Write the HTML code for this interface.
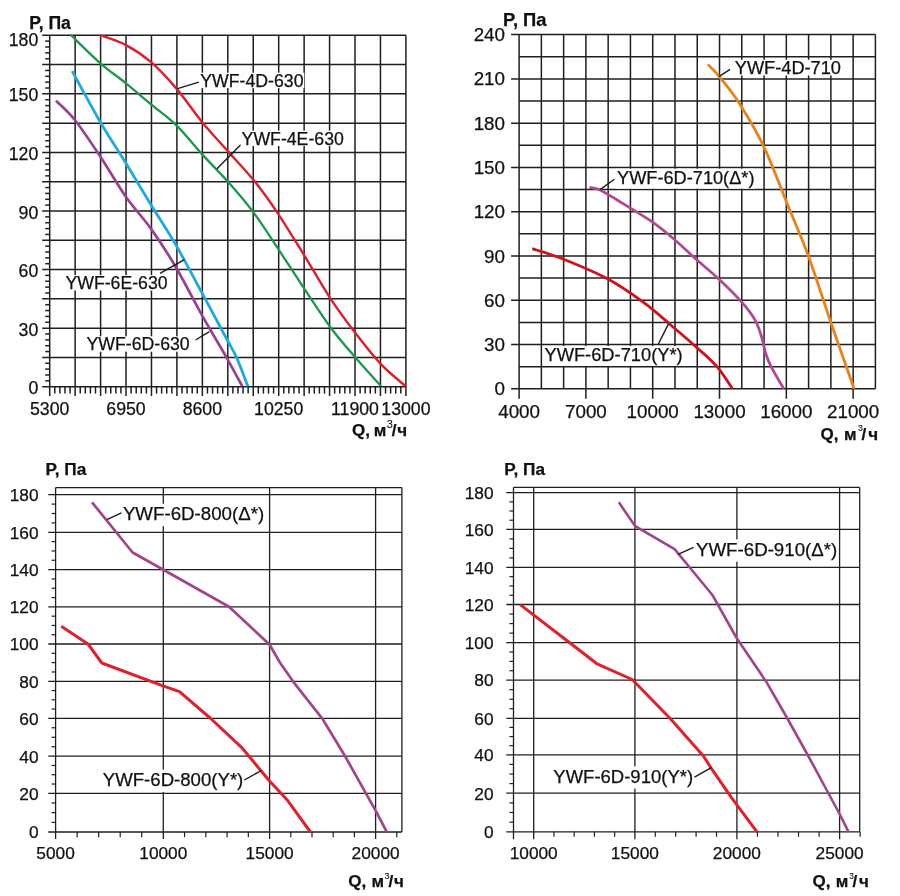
<!DOCTYPE html>
<html><head><meta charset="utf-8"><style>
html,body{margin:0;padding:0;background:#fff;}
svg{display:block;will-change:transform;}
text{font-family:"Liberation Sans", sans-serif;fill:#111;stroke:#111;stroke-width:0.25px;}
</style></head><body>
<svg width="900" height="896" viewBox="0 0 900 896">
<rect width="900" height="896" fill="#fff"/>
<line x1="49.70" y1="35.30" x2="49.70" y2="396.10" stroke="#1f1f1f" stroke-width="1.5"/>
<line x1="75.14" y1="35.30" x2="75.14" y2="396.10" stroke="#1f1f1f" stroke-width="1.5"/>
<line x1="100.59" y1="35.30" x2="100.59" y2="396.10" stroke="#1f1f1f" stroke-width="1.5"/>
<line x1="126.03" y1="35.30" x2="126.03" y2="396.10" stroke="#1f1f1f" stroke-width="1.5"/>
<line x1="151.47" y1="35.30" x2="151.47" y2="396.10" stroke="#1f1f1f" stroke-width="1.5"/>
<line x1="176.91" y1="35.30" x2="176.91" y2="396.10" stroke="#1f1f1f" stroke-width="1.5"/>
<line x1="202.36" y1="35.30" x2="202.36" y2="396.10" stroke="#1f1f1f" stroke-width="1.5"/>
<line x1="227.80" y1="35.30" x2="227.80" y2="396.10" stroke="#1f1f1f" stroke-width="1.5"/>
<line x1="253.24" y1="35.30" x2="253.24" y2="396.10" stroke="#1f1f1f" stroke-width="1.5"/>
<line x1="278.69" y1="35.30" x2="278.69" y2="396.10" stroke="#1f1f1f" stroke-width="1.5"/>
<line x1="304.13" y1="35.30" x2="304.13" y2="396.10" stroke="#1f1f1f" stroke-width="1.5"/>
<line x1="329.57" y1="35.30" x2="329.57" y2="396.10" stroke="#1f1f1f" stroke-width="1.5"/>
<line x1="355.01" y1="35.30" x2="355.01" y2="396.10" stroke="#1f1f1f" stroke-width="1.5"/>
<line x1="380.46" y1="35.30" x2="380.46" y2="396.10" stroke="#1f1f1f" stroke-width="1.5"/>
<line x1="405.90" y1="35.30" x2="405.90" y2="396.10" stroke="#1f1f1f" stroke-width="1.5"/>
<line x1="42.20" y1="35.30" x2="405.90" y2="35.30" stroke="#1f1f1f" stroke-width="1.5"/>
<line x1="42.20" y1="64.58" x2="405.90" y2="64.58" stroke="#1f1f1f" stroke-width="1.5"/>
<line x1="42.20" y1="93.87" x2="405.90" y2="93.87" stroke="#1f1f1f" stroke-width="1.5"/>
<line x1="42.20" y1="123.15" x2="405.90" y2="123.15" stroke="#1f1f1f" stroke-width="1.5"/>
<line x1="42.20" y1="152.43" x2="405.90" y2="152.43" stroke="#1f1f1f" stroke-width="1.5"/>
<line x1="42.20" y1="181.72" x2="405.90" y2="181.72" stroke="#1f1f1f" stroke-width="1.5"/>
<line x1="42.20" y1="211.00" x2="405.90" y2="211.00" stroke="#1f1f1f" stroke-width="1.5"/>
<line x1="42.20" y1="240.28" x2="405.90" y2="240.28" stroke="#1f1f1f" stroke-width="1.5"/>
<line x1="42.20" y1="269.57" x2="405.90" y2="269.57" stroke="#1f1f1f" stroke-width="1.5"/>
<line x1="42.20" y1="298.85" x2="405.90" y2="298.85" stroke="#1f1f1f" stroke-width="1.5"/>
<line x1="42.20" y1="328.13" x2="405.90" y2="328.13" stroke="#1f1f1f" stroke-width="1.5"/>
<line x1="42.20" y1="357.42" x2="405.90" y2="357.42" stroke="#1f1f1f" stroke-width="1.5"/>
<line x1="42.20" y1="386.70" x2="405.90" y2="386.70" stroke="#1f1f1f" stroke-width="1.5"/>
<line x1="54.79" y1="386.70" x2="54.79" y2="393.60" stroke="#1f1f1f" stroke-width="1.5"/>
<line x1="59.88" y1="386.70" x2="59.88" y2="393.60" stroke="#1f1f1f" stroke-width="1.5"/>
<line x1="64.97" y1="386.70" x2="64.97" y2="393.60" stroke="#1f1f1f" stroke-width="1.5"/>
<line x1="70.05" y1="386.70" x2="70.05" y2="393.60" stroke="#1f1f1f" stroke-width="1.5"/>
<line x1="80.23" y1="386.70" x2="80.23" y2="393.60" stroke="#1f1f1f" stroke-width="1.5"/>
<line x1="85.32" y1="386.70" x2="85.32" y2="393.60" stroke="#1f1f1f" stroke-width="1.5"/>
<line x1="90.41" y1="386.70" x2="90.41" y2="393.60" stroke="#1f1f1f" stroke-width="1.5"/>
<line x1="95.50" y1="386.70" x2="95.50" y2="393.60" stroke="#1f1f1f" stroke-width="1.5"/>
<line x1="105.67" y1="386.70" x2="105.67" y2="393.60" stroke="#1f1f1f" stroke-width="1.5"/>
<line x1="110.76" y1="386.70" x2="110.76" y2="393.60" stroke="#1f1f1f" stroke-width="1.5"/>
<line x1="115.85" y1="386.70" x2="115.85" y2="393.60" stroke="#1f1f1f" stroke-width="1.5"/>
<line x1="120.94" y1="386.70" x2="120.94" y2="393.60" stroke="#1f1f1f" stroke-width="1.5"/>
<line x1="131.12" y1="386.70" x2="131.12" y2="393.60" stroke="#1f1f1f" stroke-width="1.5"/>
<line x1="136.21" y1="386.70" x2="136.21" y2="393.60" stroke="#1f1f1f" stroke-width="1.5"/>
<line x1="141.29" y1="386.70" x2="141.29" y2="393.60" stroke="#1f1f1f" stroke-width="1.5"/>
<line x1="146.38" y1="386.70" x2="146.38" y2="393.60" stroke="#1f1f1f" stroke-width="1.5"/>
<line x1="156.56" y1="386.70" x2="156.56" y2="393.60" stroke="#1f1f1f" stroke-width="1.5"/>
<line x1="161.65" y1="386.70" x2="161.65" y2="393.60" stroke="#1f1f1f" stroke-width="1.5"/>
<line x1="166.74" y1="386.70" x2="166.74" y2="393.60" stroke="#1f1f1f" stroke-width="1.5"/>
<line x1="171.83" y1="386.70" x2="171.83" y2="393.60" stroke="#1f1f1f" stroke-width="1.5"/>
<line x1="182.00" y1="386.70" x2="182.00" y2="393.60" stroke="#1f1f1f" stroke-width="1.5"/>
<line x1="187.09" y1="386.70" x2="187.09" y2="393.60" stroke="#1f1f1f" stroke-width="1.5"/>
<line x1="192.18" y1="386.70" x2="192.18" y2="393.60" stroke="#1f1f1f" stroke-width="1.5"/>
<line x1="197.27" y1="386.70" x2="197.27" y2="393.60" stroke="#1f1f1f" stroke-width="1.5"/>
<line x1="207.45" y1="386.70" x2="207.45" y2="393.60" stroke="#1f1f1f" stroke-width="1.5"/>
<line x1="212.53" y1="386.70" x2="212.53" y2="393.60" stroke="#1f1f1f" stroke-width="1.5"/>
<line x1="217.62" y1="386.70" x2="217.62" y2="393.60" stroke="#1f1f1f" stroke-width="1.5"/>
<line x1="222.71" y1="386.70" x2="222.71" y2="393.60" stroke="#1f1f1f" stroke-width="1.5"/>
<line x1="232.89" y1="386.70" x2="232.89" y2="393.60" stroke="#1f1f1f" stroke-width="1.5"/>
<line x1="237.98" y1="386.70" x2="237.98" y2="393.60" stroke="#1f1f1f" stroke-width="1.5"/>
<line x1="243.07" y1="386.70" x2="243.07" y2="393.60" stroke="#1f1f1f" stroke-width="1.5"/>
<line x1="248.15" y1="386.70" x2="248.15" y2="393.60" stroke="#1f1f1f" stroke-width="1.5"/>
<line x1="258.33" y1="386.70" x2="258.33" y2="393.60" stroke="#1f1f1f" stroke-width="1.5"/>
<line x1="263.42" y1="386.70" x2="263.42" y2="393.60" stroke="#1f1f1f" stroke-width="1.5"/>
<line x1="268.51" y1="386.70" x2="268.51" y2="393.60" stroke="#1f1f1f" stroke-width="1.5"/>
<line x1="273.60" y1="386.70" x2="273.60" y2="393.60" stroke="#1f1f1f" stroke-width="1.5"/>
<line x1="283.77" y1="386.70" x2="283.77" y2="393.60" stroke="#1f1f1f" stroke-width="1.5"/>
<line x1="288.86" y1="386.70" x2="288.86" y2="393.60" stroke="#1f1f1f" stroke-width="1.5"/>
<line x1="293.95" y1="386.70" x2="293.95" y2="393.60" stroke="#1f1f1f" stroke-width="1.5"/>
<line x1="299.04" y1="386.70" x2="299.04" y2="393.60" stroke="#1f1f1f" stroke-width="1.5"/>
<line x1="309.22" y1="386.70" x2="309.22" y2="393.60" stroke="#1f1f1f" stroke-width="1.5"/>
<line x1="314.31" y1="386.70" x2="314.31" y2="393.60" stroke="#1f1f1f" stroke-width="1.5"/>
<line x1="319.39" y1="386.70" x2="319.39" y2="393.60" stroke="#1f1f1f" stroke-width="1.5"/>
<line x1="324.48" y1="386.70" x2="324.48" y2="393.60" stroke="#1f1f1f" stroke-width="1.5"/>
<line x1="334.66" y1="386.70" x2="334.66" y2="393.60" stroke="#1f1f1f" stroke-width="1.5"/>
<line x1="339.75" y1="386.70" x2="339.75" y2="393.60" stroke="#1f1f1f" stroke-width="1.5"/>
<line x1="344.84" y1="386.70" x2="344.84" y2="393.60" stroke="#1f1f1f" stroke-width="1.5"/>
<line x1="349.93" y1="386.70" x2="349.93" y2="393.60" stroke="#1f1f1f" stroke-width="1.5"/>
<line x1="360.10" y1="386.70" x2="360.10" y2="393.60" stroke="#1f1f1f" stroke-width="1.5"/>
<line x1="365.19" y1="386.70" x2="365.19" y2="393.60" stroke="#1f1f1f" stroke-width="1.5"/>
<line x1="370.28" y1="386.70" x2="370.28" y2="393.60" stroke="#1f1f1f" stroke-width="1.5"/>
<line x1="375.37" y1="386.70" x2="375.37" y2="393.60" stroke="#1f1f1f" stroke-width="1.5"/>
<line x1="385.55" y1="386.70" x2="385.55" y2="393.60" stroke="#1f1f1f" stroke-width="1.5"/>
<line x1="390.63" y1="386.70" x2="390.63" y2="393.60" stroke="#1f1f1f" stroke-width="1.5"/>
<line x1="395.72" y1="386.70" x2="395.72" y2="393.60" stroke="#1f1f1f" stroke-width="1.5"/>
<line x1="400.81" y1="386.70" x2="400.81" y2="393.60" stroke="#1f1f1f" stroke-width="1.5"/>
<line x1="45.20" y1="41.16" x2="49.70" y2="41.16" stroke="#1f1f1f" stroke-width="1.5"/>
<line x1="45.20" y1="47.01" x2="49.70" y2="47.01" stroke="#1f1f1f" stroke-width="1.5"/>
<line x1="45.20" y1="52.87" x2="49.70" y2="52.87" stroke="#1f1f1f" stroke-width="1.5"/>
<line x1="45.20" y1="58.73" x2="49.70" y2="58.73" stroke="#1f1f1f" stroke-width="1.5"/>
<line x1="45.20" y1="70.44" x2="49.70" y2="70.44" stroke="#1f1f1f" stroke-width="1.5"/>
<line x1="45.20" y1="76.30" x2="49.70" y2="76.30" stroke="#1f1f1f" stroke-width="1.5"/>
<line x1="45.20" y1="82.15" x2="49.70" y2="82.15" stroke="#1f1f1f" stroke-width="1.5"/>
<line x1="45.20" y1="88.01" x2="49.70" y2="88.01" stroke="#1f1f1f" stroke-width="1.5"/>
<line x1="45.20" y1="99.72" x2="49.70" y2="99.72" stroke="#1f1f1f" stroke-width="1.5"/>
<line x1="45.20" y1="105.58" x2="49.70" y2="105.58" stroke="#1f1f1f" stroke-width="1.5"/>
<line x1="45.20" y1="111.44" x2="49.70" y2="111.44" stroke="#1f1f1f" stroke-width="1.5"/>
<line x1="45.20" y1="117.29" x2="49.70" y2="117.29" stroke="#1f1f1f" stroke-width="1.5"/>
<line x1="45.20" y1="129.01" x2="49.70" y2="129.01" stroke="#1f1f1f" stroke-width="1.5"/>
<line x1="45.20" y1="134.86" x2="49.70" y2="134.86" stroke="#1f1f1f" stroke-width="1.5"/>
<line x1="45.20" y1="140.72" x2="49.70" y2="140.72" stroke="#1f1f1f" stroke-width="1.5"/>
<line x1="45.20" y1="146.58" x2="49.70" y2="146.58" stroke="#1f1f1f" stroke-width="1.5"/>
<line x1="45.20" y1="158.29" x2="49.70" y2="158.29" stroke="#1f1f1f" stroke-width="1.5"/>
<line x1="45.20" y1="164.15" x2="49.70" y2="164.15" stroke="#1f1f1f" stroke-width="1.5"/>
<line x1="45.20" y1="170.00" x2="49.70" y2="170.00" stroke="#1f1f1f" stroke-width="1.5"/>
<line x1="45.20" y1="175.86" x2="49.70" y2="175.86" stroke="#1f1f1f" stroke-width="1.5"/>
<line x1="45.20" y1="187.57" x2="49.70" y2="187.57" stroke="#1f1f1f" stroke-width="1.5"/>
<line x1="45.20" y1="193.43" x2="49.70" y2="193.43" stroke="#1f1f1f" stroke-width="1.5"/>
<line x1="45.20" y1="199.29" x2="49.70" y2="199.29" stroke="#1f1f1f" stroke-width="1.5"/>
<line x1="45.20" y1="205.14" x2="49.70" y2="205.14" stroke="#1f1f1f" stroke-width="1.5"/>
<line x1="45.20" y1="216.86" x2="49.70" y2="216.86" stroke="#1f1f1f" stroke-width="1.5"/>
<line x1="45.20" y1="222.71" x2="49.70" y2="222.71" stroke="#1f1f1f" stroke-width="1.5"/>
<line x1="45.20" y1="228.57" x2="49.70" y2="228.57" stroke="#1f1f1f" stroke-width="1.5"/>
<line x1="45.20" y1="234.43" x2="49.70" y2="234.43" stroke="#1f1f1f" stroke-width="1.5"/>
<line x1="45.20" y1="246.14" x2="49.70" y2="246.14" stroke="#1f1f1f" stroke-width="1.5"/>
<line x1="45.20" y1="252.00" x2="49.70" y2="252.00" stroke="#1f1f1f" stroke-width="1.5"/>
<line x1="45.20" y1="257.85" x2="49.70" y2="257.85" stroke="#1f1f1f" stroke-width="1.5"/>
<line x1="45.20" y1="263.71" x2="49.70" y2="263.71" stroke="#1f1f1f" stroke-width="1.5"/>
<line x1="45.20" y1="275.42" x2="49.70" y2="275.42" stroke="#1f1f1f" stroke-width="1.5"/>
<line x1="45.20" y1="281.28" x2="49.70" y2="281.28" stroke="#1f1f1f" stroke-width="1.5"/>
<line x1="45.20" y1="287.14" x2="49.70" y2="287.14" stroke="#1f1f1f" stroke-width="1.5"/>
<line x1="45.20" y1="292.99" x2="49.70" y2="292.99" stroke="#1f1f1f" stroke-width="1.5"/>
<line x1="45.20" y1="304.71" x2="49.70" y2="304.71" stroke="#1f1f1f" stroke-width="1.5"/>
<line x1="45.20" y1="310.56" x2="49.70" y2="310.56" stroke="#1f1f1f" stroke-width="1.5"/>
<line x1="45.20" y1="316.42" x2="49.70" y2="316.42" stroke="#1f1f1f" stroke-width="1.5"/>
<line x1="45.20" y1="322.28" x2="49.70" y2="322.28" stroke="#1f1f1f" stroke-width="1.5"/>
<line x1="45.20" y1="333.99" x2="49.70" y2="333.99" stroke="#1f1f1f" stroke-width="1.5"/>
<line x1="45.20" y1="339.85" x2="49.70" y2="339.85" stroke="#1f1f1f" stroke-width="1.5"/>
<line x1="45.20" y1="345.70" x2="49.70" y2="345.70" stroke="#1f1f1f" stroke-width="1.5"/>
<line x1="45.20" y1="351.56" x2="49.70" y2="351.56" stroke="#1f1f1f" stroke-width="1.5"/>
<line x1="45.20" y1="363.27" x2="49.70" y2="363.27" stroke="#1f1f1f" stroke-width="1.5"/>
<line x1="45.20" y1="369.13" x2="49.70" y2="369.13" stroke="#1f1f1f" stroke-width="1.5"/>
<line x1="45.20" y1="374.99" x2="49.70" y2="374.99" stroke="#1f1f1f" stroke-width="1.5"/>
<line x1="45.20" y1="380.84" x2="49.70" y2="380.84" stroke="#1f1f1f" stroke-width="1.5"/>
<text x="38.30" y="45.50" font-size="17.7" text-anchor="end" font-weight="400" >180</text>
<text x="38.30" y="101.47" font-size="17.7" text-anchor="end" font-weight="400" >150</text>
<text x="38.30" y="160.03" font-size="17.7" text-anchor="end" font-weight="400" >120</text>
<text x="38.30" y="218.60" font-size="17.7" text-anchor="end" font-weight="400" >90</text>
<text x="38.30" y="277.17" font-size="17.7" text-anchor="end" font-weight="400" >60</text>
<text x="38.30" y="335.73" font-size="17.7" text-anchor="end" font-weight="400" >30</text>
<text x="38.30" y="394.30" font-size="17.7" text-anchor="end" font-weight="400" >0</text>
<text x="49.70" y="414.50" font-size="17.7" text-anchor="middle" font-weight="400" >5300</text>
<text x="126.03" y="414.50" font-size="17.7" text-anchor="middle" font-weight="400" >6950</text>
<text x="202.36" y="414.50" font-size="17.7" text-anchor="middle" font-weight="400" >8600</text>
<text x="278.69" y="414.50" font-size="17.7" text-anchor="middle" font-weight="400" >10250</text>
<text x="355.01" y="414.50" font-size="17.7" text-anchor="middle" font-weight="400" >11900</text>
<text x="405.90" y="414.50" font-size="17.7" text-anchor="middle" font-weight="400" >13000</text>
<text x="29.20" y="29.00" font-size="17.6" text-anchor="start" font-weight="700" >P, Па</text>
<text x="352.02" y="436.30" font-size="17.0" font-weight="700">Q,</text>
<text x="373.81" y="436.30" font-size="17.0" font-weight="700">м</text>
<text x="386.64" y="427.50" font-size="10.94" font-weight="400" style="stroke-width:0.1px">3</text>
<text x="391.83" y="436.30" font-size="17.0" font-weight="700">/</text>
<text x="397.32" y="436.30" font-size="17.0" font-weight="700">ч</text>
<path d="M100.40,35.20 C104.67,36.85 117.55,40.60 126.00,45.10 C134.45,49.60 142.65,54.90 151.10,62.20 C159.55,69.50 168.18,78.90 176.70,88.90 C185.22,98.90 193.68,111.83 202.20,122.20 C210.72,132.57 219.10,141.28 227.80,151.10 C236.50,160.92 246.07,170.73 254.40,181.10 C262.73,191.47 269.47,200.88 277.80,213.30 C286.13,225.72 295.70,241.52 304.40,255.60 C313.10,269.68 321.47,284.85 330.00,297.80 C338.53,310.75 347.08,322.20 355.60,333.30 C364.12,344.40 372.77,355.58 381.10,364.40 C389.43,373.22 401.52,382.57 405.60,386.20" fill="none" stroke="#dc1f2a" stroke-width="2.4" stroke-linejoin="round" stroke-linecap="butt"/>
<path d="M71.10,35.20 C75.98,39.88 91.25,55.28 100.40,63.30 C109.55,71.32 117.55,76.45 126.00,83.30 C134.45,90.15 142.65,97.35 151.10,104.40 C159.55,111.45 168.18,117.27 176.70,125.60 C185.22,133.93 193.68,145.07 202.20,154.40 C210.72,163.73 219.28,171.97 227.80,181.60 C236.32,191.23 244.78,200.80 253.30,212.20 C261.82,223.60 270.38,237.22 278.90,250.00 C287.42,262.78 295.88,276.12 304.40,288.90 C312.92,301.68 321.47,315.22 330.00,326.70 C338.53,338.18 347.08,347.88 355.60,357.80 C364.12,367.72 376.85,381.47 381.10,386.20" fill="none" stroke="#1b984c" stroke-width="2.3" stroke-linejoin="round" stroke-linecap="butt"/>
<path d="M72.20,71.10 C76.90,79.62 91.43,106.83 100.40,122.20 C109.37,137.57 117.55,149.50 126.00,163.30 C134.45,177.10 142.83,191.48 151.10,205.00 C159.37,218.52 167.08,229.68 175.60,244.40 C184.12,259.12 193.68,277.53 202.20,293.30 C210.72,309.07 220.95,328.25 226.70,339.00 C232.45,349.75 233.18,349.93 236.70,357.80 C240.22,365.67 245.95,381.47 247.80,386.20" fill="none" stroke="#1eaae0" stroke-width="2.8" stroke-linejoin="round" stroke-linecap="butt"/>
<path d="M56.00,100.70 C59.15,103.92 67.50,110.67 74.90,120.00 C82.30,129.33 91.88,143.87 100.40,156.70 C108.92,169.53 117.55,184.97 126.00,197.00 C134.45,209.03 142.83,217.28 151.10,228.90 C159.37,240.52 167.08,252.25 175.60,266.70 C184.12,281.15 193.68,300.42 202.20,315.60 C210.72,330.78 220.03,346.03 226.70,357.80 C233.37,369.57 239.62,381.47 242.20,386.20" fill="none" stroke="#9a4090" stroke-width="2.7" stroke-linejoin="round" stroke-linecap="butt"/>
<line x1="176.70" y1="88.90" x2="198.90" y2="82.20" stroke="#1a1a1a" stroke-width="1.4"/>
<rect x="199.33" y="72.71" width="104.95" height="15.39" fill="#fff"/>
<text x="200.30" y="86.60" font-size="17.7" text-anchor="start" font-weight="400" >YWF-4D-630</text>
<line x1="216.70" y1="168.90" x2="241.00" y2="144.40" stroke="#1a1a1a" stroke-width="1.4"/>
<rect x="240.63" y="130.61" width="104.07" height="15.39" fill="#fff"/>
<text x="241.60" y="144.50" font-size="17.7" text-anchor="start" font-weight="400" >YWF-4E-630</text>
<line x1="160.00" y1="273.30" x2="184.40" y2="259.60" stroke="#1a1a1a" stroke-width="1.4"/>
<rect x="64.43" y="275.11" width="104.07" height="15.39" fill="#fff"/>
<text x="65.40" y="289.00" font-size="17.7" text-anchor="start" font-weight="400" >YWF-6E-630</text>
<line x1="195.60" y1="340.00" x2="209.30" y2="331.60" stroke="#1a1a1a" stroke-width="1.4"/>
<rect x="85.53" y="336.31" width="104.95" height="15.39" fill="#fff"/>
<text x="86.50" y="350.20" font-size="17.7" text-anchor="start" font-weight="400" >YWF-6D-630</text>
<line x1="519.10" y1="34.60" x2="519.10" y2="398.80" stroke="#1f1f1f" stroke-width="1.5"/>
<line x1="541.37" y1="34.60" x2="541.37" y2="388.80" stroke="#1f1f1f" stroke-width="1.5"/>
<line x1="563.64" y1="34.60" x2="563.64" y2="388.80" stroke="#1f1f1f" stroke-width="1.5"/>
<line x1="585.91" y1="34.60" x2="585.91" y2="398.80" stroke="#1f1f1f" stroke-width="1.5"/>
<line x1="608.17" y1="34.60" x2="608.17" y2="388.80" stroke="#1f1f1f" stroke-width="1.5"/>
<line x1="630.44" y1="34.60" x2="630.44" y2="388.80" stroke="#1f1f1f" stroke-width="1.5"/>
<line x1="652.71" y1="34.60" x2="652.71" y2="398.80" stroke="#1f1f1f" stroke-width="1.5"/>
<line x1="674.98" y1="34.60" x2="674.98" y2="388.80" stroke="#1f1f1f" stroke-width="1.5"/>
<line x1="697.25" y1="34.60" x2="697.25" y2="388.80" stroke="#1f1f1f" stroke-width="1.5"/>
<line x1="719.52" y1="34.60" x2="719.52" y2="398.80" stroke="#1f1f1f" stroke-width="1.5"/>
<line x1="741.79" y1="34.60" x2="741.79" y2="388.80" stroke="#1f1f1f" stroke-width="1.5"/>
<line x1="764.06" y1="34.60" x2="764.06" y2="388.80" stroke="#1f1f1f" stroke-width="1.5"/>
<line x1="786.33" y1="34.60" x2="786.33" y2="398.80" stroke="#1f1f1f" stroke-width="1.5"/>
<line x1="808.59" y1="34.60" x2="808.59" y2="388.80" stroke="#1f1f1f" stroke-width="1.5"/>
<line x1="830.86" y1="34.60" x2="830.86" y2="388.80" stroke="#1f1f1f" stroke-width="1.5"/>
<line x1="853.13" y1="34.60" x2="853.13" y2="398.80" stroke="#1f1f1f" stroke-width="1.5"/>
<line x1="875.40" y1="34.60" x2="875.40" y2="388.80" stroke="#1f1f1f" stroke-width="1.5"/>
<line x1="511.10" y1="34.60" x2="875.40" y2="34.60" stroke="#1f1f1f" stroke-width="1.5"/>
<line x1="519.10" y1="56.74" x2="875.40" y2="56.74" stroke="#1f1f1f" stroke-width="1.5"/>
<line x1="511.10" y1="78.88" x2="875.40" y2="78.88" stroke="#1f1f1f" stroke-width="1.5"/>
<line x1="519.10" y1="101.01" x2="875.40" y2="101.01" stroke="#1f1f1f" stroke-width="1.5"/>
<line x1="511.10" y1="123.15" x2="875.40" y2="123.15" stroke="#1f1f1f" stroke-width="1.5"/>
<line x1="519.10" y1="145.29" x2="875.40" y2="145.29" stroke="#1f1f1f" stroke-width="1.5"/>
<line x1="511.10" y1="167.42" x2="875.40" y2="167.42" stroke="#1f1f1f" stroke-width="1.5"/>
<line x1="519.10" y1="189.56" x2="875.40" y2="189.56" stroke="#1f1f1f" stroke-width="1.5"/>
<line x1="511.10" y1="211.70" x2="875.40" y2="211.70" stroke="#1f1f1f" stroke-width="1.5"/>
<line x1="519.10" y1="233.84" x2="875.40" y2="233.84" stroke="#1f1f1f" stroke-width="1.5"/>
<line x1="511.10" y1="255.97" x2="875.40" y2="255.97" stroke="#1f1f1f" stroke-width="1.5"/>
<line x1="519.10" y1="278.11" x2="875.40" y2="278.11" stroke="#1f1f1f" stroke-width="1.5"/>
<line x1="511.10" y1="300.25" x2="875.40" y2="300.25" stroke="#1f1f1f" stroke-width="1.5"/>
<line x1="519.10" y1="322.39" x2="875.40" y2="322.39" stroke="#1f1f1f" stroke-width="1.5"/>
<line x1="511.10" y1="344.53" x2="875.40" y2="344.53" stroke="#1f1f1f" stroke-width="1.5"/>
<line x1="519.10" y1="366.66" x2="875.40" y2="366.66" stroke="#1f1f1f" stroke-width="1.5"/>
<line x1="511.10" y1="388.80" x2="875.40" y2="388.80" stroke="#1f1f1f" stroke-width="1.5"/>
<text x="505.00" y="41.20" font-size="18.8" text-anchor="end" font-weight="400" >240</text>
<text x="505.00" y="85.47" font-size="18.8" text-anchor="end" font-weight="400" >210</text>
<text x="505.00" y="129.75" font-size="18.8" text-anchor="end" font-weight="400" >180</text>
<text x="505.00" y="174.02" font-size="18.8" text-anchor="end" font-weight="400" >150</text>
<text x="505.00" y="218.30" font-size="18.8" text-anchor="end" font-weight="400" >120</text>
<text x="505.00" y="262.57" font-size="18.8" text-anchor="end" font-weight="400" >90</text>
<text x="505.00" y="306.85" font-size="18.8" text-anchor="end" font-weight="400" >60</text>
<text x="505.00" y="351.13" font-size="18.8" text-anchor="end" font-weight="400" >30</text>
<text x="505.00" y="395.40" font-size="18.8" text-anchor="end" font-weight="400" >0</text>
<text x="519.10" y="417.60" font-size="18.8" text-anchor="middle" font-weight="400" >4000</text>
<text x="585.91" y="417.60" font-size="18.8" text-anchor="middle" font-weight="400" >7000</text>
<text x="652.71" y="417.60" font-size="18.8" text-anchor="middle" font-weight="400" >10000</text>
<text x="719.52" y="417.60" font-size="18.8" text-anchor="middle" font-weight="400" >13000</text>
<text x="786.33" y="417.60" font-size="18.8" text-anchor="middle" font-weight="400" >16000</text>
<text x="853.13" y="417.60" font-size="18.8" text-anchor="middle" font-weight="400" >21000</text>
<text x="503.00" y="26.00" font-size="18.4" text-anchor="start" font-weight="700" >P, Па</text>
<text x="820.52" y="439.80" font-size="17.0" font-weight="700">Q,</text>
<text x="844.11" y="439.80" font-size="17.0" font-weight="700">м</text>
<text x="858.08" y="431.00" font-size="8.75" font-weight="400" style="stroke-width:0.1px">3</text>
<text x="861.53" y="439.80" font-size="17.0" font-weight="700">/</text>
<text x="868.32" y="439.80" font-size="17.0" font-weight="700">ч</text>
<path d="M707.80,64.40 C709.65,66.37 713.90,70.08 718.90,76.20 C723.90,82.32 730.40,89.53 737.80,101.10 C745.20,112.67 755.18,128.78 763.30,145.60 C771.42,162.42 779.00,183.63 786.50,202.00 C794.00,220.37 800.95,235.85 808.30,255.80 C815.65,275.75 822.97,299.55 830.60,321.70 C838.23,343.85 850.18,377.53 854.10,388.70" fill="none" stroke="#e8831a" stroke-width="2.8" stroke-linejoin="round" stroke-linecap="butt"/>
<path d="M589.60,187.30 C591.33,187.75 595.42,187.88 600.00,190.00 C604.58,192.12 608.28,194.62 617.10,200.00 C625.92,205.38 643.22,215.60 652.90,222.30 C662.58,229.00 668.13,234.17 675.20,240.20 C682.27,246.23 688.00,252.00 695.30,258.50 C702.60,265.00 711.33,272.02 719.00,279.20 C726.67,286.38 735.35,294.90 741.30,301.60 C747.25,308.30 751.35,313.63 754.70,319.40 C758.05,325.17 759.53,330.43 761.40,336.20 C763.27,341.97 764.22,348.80 765.90,354.00 C767.58,359.20 768.53,361.62 771.50,367.40 C774.47,373.18 781.67,385.15 783.70,388.70" fill="none" stroke="#b04a90" stroke-width="2.8" stroke-linejoin="round" stroke-linecap="butt"/>
<path d="M532.30,248.70 C537.52,250.45 551.13,254.22 563.60,259.20 C576.07,264.18 593.72,271.35 607.10,278.60 C620.48,285.85 633.30,294.97 643.90,302.70 C654.50,310.43 662.13,317.75 670.70,325.00 C679.27,332.25 687.62,339.32 695.30,346.20 C702.98,353.08 710.62,359.22 716.80,366.30 C722.98,373.38 729.80,384.97 732.40,388.70" fill="none" stroke="#d0101a" stroke-width="2.8" stroke-linejoin="round" stroke-linecap="butt"/>
<line x1="718.90" y1="76.70" x2="730.00" y2="69.30" stroke="#1a1a1a" stroke-width="1.4"/>
<rect x="733.85" y="59.76" width="107.83" height="15.74" fill="#fff"/>
<text x="734.80" y="74.00" font-size="18.2" text-anchor="start" font-weight="400" >YWF-4D-710</text>
<line x1="600.00" y1="189.60" x2="614.40" y2="179.30" stroke="#1a1a1a" stroke-width="1.4"/>
<rect x="616.05" y="168.71" width="138.86" height="19.93" fill="#fff"/>
<text x="617.00" y="183.50" font-size="18.2" text-anchor="start" font-weight="400" >YWF-6D-710(Δ*)</text>
<line x1="658.40" y1="344.00" x2="668.50" y2="323.90" stroke="#1a1a1a" stroke-width="1.4"/>
<rect x="543.55" y="345.94" width="139.61" height="20.02" fill="#fff"/>
<text x="544.50" y="360.80" font-size="18.3" text-anchor="start" font-weight="400" >YWF-6D-710(Y*)</text>
<line x1="55.60" y1="487.60" x2="401.90" y2="487.60" stroke="#1f1f1f" stroke-width="1.3"/>
<line x1="401.90" y1="487.60" x2="401.90" y2="832.00" stroke="#1f1f1f" stroke-width="1.3"/>
<line x1="55.60" y1="487.60" x2="55.60" y2="839.00" stroke="#1f1f1f" stroke-width="1.3"/>
<line x1="48.20" y1="832.00" x2="401.90" y2="832.00" stroke="#1f1f1f" stroke-width="1.3"/>
<line x1="48.20" y1="793.30" x2="401.90" y2="793.30" stroke="#1f1f1f" stroke-width="1.3"/>
<line x1="48.20" y1="756.20" x2="401.90" y2="756.20" stroke="#1f1f1f" stroke-width="1.3"/>
<line x1="48.20" y1="718.30" x2="401.90" y2="718.30" stroke="#1f1f1f" stroke-width="1.3"/>
<line x1="48.20" y1="681.30" x2="401.90" y2="681.30" stroke="#1f1f1f" stroke-width="1.3"/>
<line x1="48.20" y1="644.00" x2="401.90" y2="644.00" stroke="#1f1f1f" stroke-width="1.3"/>
<line x1="48.20" y1="606.90" x2="401.90" y2="606.90" stroke="#1f1f1f" stroke-width="1.3"/>
<line x1="48.20" y1="569.60" x2="401.90" y2="569.60" stroke="#1f1f1f" stroke-width="1.3"/>
<line x1="48.20" y1="532.30" x2="401.90" y2="532.30" stroke="#1f1f1f" stroke-width="1.3"/>
<line x1="48.20" y1="494.70" x2="401.90" y2="494.70" stroke="#1f1f1f" stroke-width="1.3"/>
<line x1="51.60" y1="822.33" x2="55.60" y2="822.33" stroke="#1f1f1f" stroke-width="1.2"/>
<line x1="51.60" y1="812.65" x2="55.60" y2="812.65" stroke="#1f1f1f" stroke-width="1.2"/>
<line x1="51.60" y1="802.97" x2="55.60" y2="802.97" stroke="#1f1f1f" stroke-width="1.2"/>
<line x1="51.60" y1="784.02" x2="55.60" y2="784.02" stroke="#1f1f1f" stroke-width="1.2"/>
<line x1="51.60" y1="774.75" x2="55.60" y2="774.75" stroke="#1f1f1f" stroke-width="1.2"/>
<line x1="51.60" y1="765.48" x2="55.60" y2="765.48" stroke="#1f1f1f" stroke-width="1.2"/>
<line x1="51.60" y1="746.73" x2="55.60" y2="746.73" stroke="#1f1f1f" stroke-width="1.2"/>
<line x1="51.60" y1="737.25" x2="55.60" y2="737.25" stroke="#1f1f1f" stroke-width="1.2"/>
<line x1="51.60" y1="727.77" x2="55.60" y2="727.77" stroke="#1f1f1f" stroke-width="1.2"/>
<line x1="51.60" y1="709.05" x2="55.60" y2="709.05" stroke="#1f1f1f" stroke-width="1.2"/>
<line x1="51.60" y1="699.80" x2="55.60" y2="699.80" stroke="#1f1f1f" stroke-width="1.2"/>
<line x1="51.60" y1="690.55" x2="55.60" y2="690.55" stroke="#1f1f1f" stroke-width="1.2"/>
<line x1="51.60" y1="671.97" x2="55.60" y2="671.97" stroke="#1f1f1f" stroke-width="1.2"/>
<line x1="51.60" y1="662.65" x2="55.60" y2="662.65" stroke="#1f1f1f" stroke-width="1.2"/>
<line x1="51.60" y1="653.33" x2="55.60" y2="653.33" stroke="#1f1f1f" stroke-width="1.2"/>
<line x1="51.60" y1="634.73" x2="55.60" y2="634.73" stroke="#1f1f1f" stroke-width="1.2"/>
<line x1="51.60" y1="625.45" x2="55.60" y2="625.45" stroke="#1f1f1f" stroke-width="1.2"/>
<line x1="51.60" y1="616.17" x2="55.60" y2="616.17" stroke="#1f1f1f" stroke-width="1.2"/>
<line x1="51.60" y1="597.58" x2="55.60" y2="597.58" stroke="#1f1f1f" stroke-width="1.2"/>
<line x1="51.60" y1="588.25" x2="55.60" y2="588.25" stroke="#1f1f1f" stroke-width="1.2"/>
<line x1="51.60" y1="578.92" x2="55.60" y2="578.92" stroke="#1f1f1f" stroke-width="1.2"/>
<line x1="51.60" y1="560.27" x2="55.60" y2="560.27" stroke="#1f1f1f" stroke-width="1.2"/>
<line x1="51.60" y1="550.95" x2="55.60" y2="550.95" stroke="#1f1f1f" stroke-width="1.2"/>
<line x1="51.60" y1="541.62" x2="55.60" y2="541.62" stroke="#1f1f1f" stroke-width="1.2"/>
<line x1="51.60" y1="522.90" x2="55.60" y2="522.90" stroke="#1f1f1f" stroke-width="1.2"/>
<line x1="51.60" y1="513.50" x2="55.60" y2="513.50" stroke="#1f1f1f" stroke-width="1.2"/>
<line x1="51.60" y1="504.10" x2="55.60" y2="504.10" stroke="#1f1f1f" stroke-width="1.2"/>
<line x1="77.14" y1="832.00" x2="77.14" y2="837.20" stroke="#1f1f1f" stroke-width="1.2"/>
<line x1="98.68" y1="832.00" x2="98.68" y2="837.20" stroke="#1f1f1f" stroke-width="1.2"/>
<line x1="120.22" y1="832.00" x2="120.22" y2="837.20" stroke="#1f1f1f" stroke-width="1.2"/>
<line x1="141.76" y1="832.00" x2="141.76" y2="837.20" stroke="#1f1f1f" stroke-width="1.2"/>
<line x1="163.30" y1="487.60" x2="163.30" y2="839.00" stroke="#1f1f1f" stroke-width="1.3"/>
<line x1="184.56" y1="832.00" x2="184.56" y2="837.20" stroke="#1f1f1f" stroke-width="1.2"/>
<line x1="205.82" y1="832.00" x2="205.82" y2="837.20" stroke="#1f1f1f" stroke-width="1.2"/>
<line x1="227.08" y1="832.00" x2="227.08" y2="837.20" stroke="#1f1f1f" stroke-width="1.2"/>
<line x1="248.34" y1="832.00" x2="248.34" y2="837.20" stroke="#1f1f1f" stroke-width="1.2"/>
<line x1="269.60" y1="487.60" x2="269.60" y2="839.00" stroke="#1f1f1f" stroke-width="1.3"/>
<line x1="290.80" y1="832.00" x2="290.80" y2="837.20" stroke="#1f1f1f" stroke-width="1.2"/>
<line x1="312.00" y1="832.00" x2="312.00" y2="837.20" stroke="#1f1f1f" stroke-width="1.2"/>
<line x1="333.20" y1="832.00" x2="333.20" y2="837.20" stroke="#1f1f1f" stroke-width="1.2"/>
<line x1="354.40" y1="832.00" x2="354.40" y2="837.20" stroke="#1f1f1f" stroke-width="1.2"/>
<line x1="375.60" y1="487.60" x2="375.60" y2="839.00" stroke="#1f1f1f" stroke-width="1.3"/>
<line x1="396.80" y1="832.00" x2="396.80" y2="837.20" stroke="#1f1f1f" stroke-width="1.2"/>
<text x="38.50" y="838.30" font-size="17.3" text-anchor="end" font-weight="400" >0</text>
<text x="38.50" y="799.60" font-size="17.3" text-anchor="end" font-weight="400" >20</text>
<text x="38.50" y="762.50" font-size="17.3" text-anchor="end" font-weight="400" >40</text>
<text x="38.50" y="724.60" font-size="17.3" text-anchor="end" font-weight="400" >60</text>
<text x="38.50" y="687.60" font-size="17.3" text-anchor="end" font-weight="400" >80</text>
<text x="38.50" y="650.30" font-size="17.3" text-anchor="end" font-weight="400" >100</text>
<text x="38.50" y="613.20" font-size="17.3" text-anchor="end" font-weight="400" >120</text>
<text x="38.50" y="575.90" font-size="17.3" text-anchor="end" font-weight="400" >140</text>
<text x="38.50" y="538.60" font-size="17.3" text-anchor="end" font-weight="400" >160</text>
<text x="38.50" y="501.00" font-size="17.3" text-anchor="end" font-weight="400" >180</text>
<text x="55.60" y="859.40" font-size="17.3" text-anchor="middle" font-weight="400" >5000</text>
<text x="163.30" y="859.40" font-size="17.3" text-anchor="middle" font-weight="400" >10000</text>
<text x="269.60" y="859.40" font-size="17.3" text-anchor="middle" font-weight="400" >15000</text>
<text x="375.60" y="859.40" font-size="17.3" text-anchor="middle" font-weight="400" >20000</text>
<text x="45.50" y="475.40" font-size="17.2" text-anchor="start" font-weight="700" >P, Па</text>
<text x="348.22" y="887.10" font-size="17.0" font-weight="700">Q,</text>
<text x="371.51" y="887.10" font-size="17.0" font-weight="700">м</text>
<text x="384.56" y="879.10" font-size="9.06" font-weight="400" style="stroke-width:0.1px">3</text>
<text x="388.43" y="887.10" font-size="17.0" font-weight="700">/</text>
<text x="394.12" y="887.10" font-size="17.0" font-weight="700">ч</text>
<path d="M92.00,502.30 L132.60,552.50 L163.40,569.70 L229.00,606.80 L269.50,644.50 L280.20,663.00 L293.70,682.30 L322.70,719.20 L345.00,756.00 L376.30,811.80 L387.00,832.30" fill="none" stroke="#a0458a" stroke-width="2.7" stroke-linejoin="round" stroke-linecap="butt"/>
<path d="M61.20,626.20 L88.00,644.00 L101.80,663.00 L163.00,685.80 L179.50,691.70 L210.70,718.50 L242.30,748.20 L269.10,780.50 L287.00,799.70 L310.40,832.00" fill="none" stroke="#e0202a" stroke-width="3.0" stroke-linejoin="round" stroke-linecap="butt"/>
<line x1="106.90" y1="519.70" x2="122.50" y2="512.40" stroke="#1a1a1a" stroke-width="1.4"/>
<rect x="121.46" y="503.75" width="143.60" height="22.39" fill="#fff"/>
<text x="122.90" y="520.40" font-size="18.7" text-anchor="start" font-weight="400" >YWF-6D-800(Δ*)</text>
<line x1="243.40" y1="780.50" x2="261.30" y2="770.50" stroke="#1a1a1a" stroke-width="1.4"/>
<rect x="101.36" y="769.62" width="142.85" height="22.30" fill="#fff"/>
<text x="102.80" y="786.20" font-size="18.6" text-anchor="start" font-weight="400" >YWF-6D-800(Y*)</text>
<line x1="513.50" y1="487.40" x2="859.70" y2="487.40" stroke="#1f1f1f" stroke-width="1.3"/>
<line x1="859.70" y1="487.40" x2="859.70" y2="831.80" stroke="#1f1f1f" stroke-width="1.3"/>
<line x1="513.50" y1="487.40" x2="513.50" y2="839.30" stroke="#1f1f1f" stroke-width="1.3"/>
<line x1="506.30" y1="831.80" x2="859.70" y2="831.80" stroke="#1f1f1f" stroke-width="1.3"/>
<line x1="506.30" y1="793.20" x2="859.70" y2="793.20" stroke="#1f1f1f" stroke-width="1.3"/>
<line x1="506.30" y1="754.80" x2="859.70" y2="754.80" stroke="#1f1f1f" stroke-width="1.3"/>
<line x1="506.30" y1="718.30" x2="859.70" y2="718.30" stroke="#1f1f1f" stroke-width="1.3"/>
<line x1="506.30" y1="680.10" x2="859.70" y2="680.10" stroke="#1f1f1f" stroke-width="1.3"/>
<line x1="506.30" y1="642.70" x2="859.70" y2="642.70" stroke="#1f1f1f" stroke-width="1.3"/>
<line x1="506.30" y1="604.50" x2="859.70" y2="604.50" stroke="#1f1f1f" stroke-width="1.3"/>
<line x1="506.30" y1="567.40" x2="859.70" y2="567.40" stroke="#1f1f1f" stroke-width="1.3"/>
<line x1="506.30" y1="529.40" x2="859.70" y2="529.40" stroke="#1f1f1f" stroke-width="1.3"/>
<line x1="506.30" y1="492.70" x2="859.70" y2="492.70" stroke="#1f1f1f" stroke-width="1.3"/>
<line x1="509.50" y1="822.15" x2="513.50" y2="822.15" stroke="#1f1f1f" stroke-width="1.2"/>
<line x1="509.50" y1="812.50" x2="513.50" y2="812.50" stroke="#1f1f1f" stroke-width="1.2"/>
<line x1="509.50" y1="802.85" x2="513.50" y2="802.85" stroke="#1f1f1f" stroke-width="1.2"/>
<line x1="509.50" y1="783.60" x2="513.50" y2="783.60" stroke="#1f1f1f" stroke-width="1.2"/>
<line x1="509.50" y1="774.00" x2="513.50" y2="774.00" stroke="#1f1f1f" stroke-width="1.2"/>
<line x1="509.50" y1="764.40" x2="513.50" y2="764.40" stroke="#1f1f1f" stroke-width="1.2"/>
<line x1="509.50" y1="745.67" x2="513.50" y2="745.67" stroke="#1f1f1f" stroke-width="1.2"/>
<line x1="509.50" y1="736.55" x2="513.50" y2="736.55" stroke="#1f1f1f" stroke-width="1.2"/>
<line x1="509.50" y1="727.42" x2="513.50" y2="727.42" stroke="#1f1f1f" stroke-width="1.2"/>
<line x1="509.50" y1="708.75" x2="513.50" y2="708.75" stroke="#1f1f1f" stroke-width="1.2"/>
<line x1="509.50" y1="699.20" x2="513.50" y2="699.20" stroke="#1f1f1f" stroke-width="1.2"/>
<line x1="509.50" y1="689.65" x2="513.50" y2="689.65" stroke="#1f1f1f" stroke-width="1.2"/>
<line x1="509.50" y1="670.75" x2="513.50" y2="670.75" stroke="#1f1f1f" stroke-width="1.2"/>
<line x1="509.50" y1="661.40" x2="513.50" y2="661.40" stroke="#1f1f1f" stroke-width="1.2"/>
<line x1="509.50" y1="652.05" x2="513.50" y2="652.05" stroke="#1f1f1f" stroke-width="1.2"/>
<line x1="509.50" y1="633.15" x2="513.50" y2="633.15" stroke="#1f1f1f" stroke-width="1.2"/>
<line x1="509.50" y1="623.60" x2="513.50" y2="623.60" stroke="#1f1f1f" stroke-width="1.2"/>
<line x1="509.50" y1="614.05" x2="513.50" y2="614.05" stroke="#1f1f1f" stroke-width="1.2"/>
<line x1="509.50" y1="595.23" x2="513.50" y2="595.23" stroke="#1f1f1f" stroke-width="1.2"/>
<line x1="509.50" y1="585.95" x2="513.50" y2="585.95" stroke="#1f1f1f" stroke-width="1.2"/>
<line x1="509.50" y1="576.67" x2="513.50" y2="576.67" stroke="#1f1f1f" stroke-width="1.2"/>
<line x1="509.50" y1="557.90" x2="513.50" y2="557.90" stroke="#1f1f1f" stroke-width="1.2"/>
<line x1="509.50" y1="548.40" x2="513.50" y2="548.40" stroke="#1f1f1f" stroke-width="1.2"/>
<line x1="509.50" y1="538.90" x2="513.50" y2="538.90" stroke="#1f1f1f" stroke-width="1.2"/>
<line x1="509.50" y1="520.23" x2="513.50" y2="520.23" stroke="#1f1f1f" stroke-width="1.2"/>
<line x1="509.50" y1="511.05" x2="513.50" y2="511.05" stroke="#1f1f1f" stroke-width="1.2"/>
<line x1="509.50" y1="501.88" x2="513.50" y2="501.88" stroke="#1f1f1f" stroke-width="1.2"/>
<line x1="533.70" y1="487.40" x2="533.70" y2="839.30" stroke="#1f1f1f" stroke-width="1.3"/>
<line x1="553.94" y1="831.80" x2="553.94" y2="836.80" stroke="#1f1f1f" stroke-width="1.2"/>
<line x1="574.18" y1="831.80" x2="574.18" y2="836.80" stroke="#1f1f1f" stroke-width="1.2"/>
<line x1="594.42" y1="831.80" x2="594.42" y2="836.80" stroke="#1f1f1f" stroke-width="1.2"/>
<line x1="614.66" y1="831.80" x2="614.66" y2="836.80" stroke="#1f1f1f" stroke-width="1.2"/>
<line x1="634.90" y1="487.40" x2="634.90" y2="839.30" stroke="#1f1f1f" stroke-width="1.3"/>
<line x1="655.30" y1="831.80" x2="655.30" y2="836.80" stroke="#1f1f1f" stroke-width="1.2"/>
<line x1="675.70" y1="831.80" x2="675.70" y2="836.80" stroke="#1f1f1f" stroke-width="1.2"/>
<line x1="696.10" y1="831.80" x2="696.10" y2="836.80" stroke="#1f1f1f" stroke-width="1.2"/>
<line x1="716.50" y1="831.80" x2="716.50" y2="836.80" stroke="#1f1f1f" stroke-width="1.2"/>
<line x1="736.90" y1="487.40" x2="736.90" y2="839.30" stroke="#1f1f1f" stroke-width="1.3"/>
<line x1="757.44" y1="831.80" x2="757.44" y2="836.80" stroke="#1f1f1f" stroke-width="1.2"/>
<line x1="777.98" y1="831.80" x2="777.98" y2="836.80" stroke="#1f1f1f" stroke-width="1.2"/>
<line x1="798.52" y1="831.80" x2="798.52" y2="836.80" stroke="#1f1f1f" stroke-width="1.2"/>
<line x1="819.06" y1="831.80" x2="819.06" y2="836.80" stroke="#1f1f1f" stroke-width="1.2"/>
<line x1="839.60" y1="487.40" x2="839.60" y2="839.30" stroke="#1f1f1f" stroke-width="1.3"/>
<line x1="860.14" y1="831.80" x2="860.14" y2="836.80" stroke="#1f1f1f" stroke-width="1.2"/>
<text x="493.60" y="838.10" font-size="17.3" text-anchor="end" font-weight="400" >0</text>
<text x="493.60" y="799.50" font-size="17.3" text-anchor="end" font-weight="400" >20</text>
<text x="493.60" y="761.10" font-size="17.3" text-anchor="end" font-weight="400" >40</text>
<text x="493.60" y="724.60" font-size="17.3" text-anchor="end" font-weight="400" >60</text>
<text x="493.60" y="686.40" font-size="17.3" text-anchor="end" font-weight="400" >80</text>
<text x="493.60" y="649.00" font-size="17.3" text-anchor="end" font-weight="400" >100</text>
<text x="493.60" y="610.80" font-size="17.3" text-anchor="end" font-weight="400" >120</text>
<text x="493.60" y="573.70" font-size="17.3" text-anchor="end" font-weight="400" >140</text>
<text x="493.60" y="535.70" font-size="17.3" text-anchor="end" font-weight="400" >160</text>
<text x="493.60" y="499.00" font-size="17.3" text-anchor="end" font-weight="400" >180</text>
<text x="533.70" y="859.20" font-size="17.3" text-anchor="middle" font-weight="400" >10000</text>
<text x="634.90" y="859.20" font-size="17.3" text-anchor="middle" font-weight="400" >15000</text>
<text x="736.90" y="859.20" font-size="17.3" text-anchor="middle" font-weight="400" >20000</text>
<text x="839.60" y="859.20" font-size="17.3" text-anchor="middle" font-weight="400" >25000</text>
<text x="504.30" y="475.40" font-size="17.2" text-anchor="start" font-weight="700" >P, Па</text>
<text x="812.62" y="886.70" font-size="17.0" font-weight="700">Q,</text>
<text x="835.81" y="886.70" font-size="17.0" font-weight="700">м</text>
<text x="849.20" y="878.50" font-size="8.28" font-weight="400" style="stroke-width:0.1px">3</text>
<text x="852.53" y="886.70" font-size="17.0" font-weight="700">/</text>
<text x="859.02" y="886.70" font-size="17.0" font-weight="700">ч</text>
<path d="M618.80,502.30 L634.90,525.80 L641.20,529.60 L674.60,549.20 L712.40,595.00 L736.90,638.50 L765.90,681.20 L787.10,718.00 L808.30,756.00 L839.60,814.00 L848.50,831.90" fill="none" stroke="#a0458a" stroke-width="2.6" stroke-linejoin="round" stroke-linecap="butt"/>
<path d="M520.20,604.60 L564.20,638.50 L597.60,664.20 L632.20,679.50 L670.20,718.50 L703.40,756.00 L711.30,768.30 L731.30,797.30 L757.00,831.90" fill="none" stroke="#e0202a" stroke-width="3.0" stroke-linejoin="round" stroke-linecap="butt"/>
<line x1="678.00" y1="554.30" x2="693.60" y2="547.40" stroke="#1a1a1a" stroke-width="1.4"/>
<rect x="694.56" y="539.35" width="143.60" height="22.39" fill="#fff"/>
<text x="696.00" y="556.00" font-size="18.7" text-anchor="start" font-weight="400" >YWF-6D-910(Δ*)</text>
<line x1="694.50" y1="777.20" x2="711.30" y2="767.60" stroke="#1a1a1a" stroke-width="1.4"/>
<rect x="551.85" y="766.39" width="142.10" height="22.21" fill="#fff"/>
<text x="553.30" y="782.90" font-size="18.5" text-anchor="start" font-weight="400" >YWF-6D-910(Y*)</text>
</svg>
</body></html>
